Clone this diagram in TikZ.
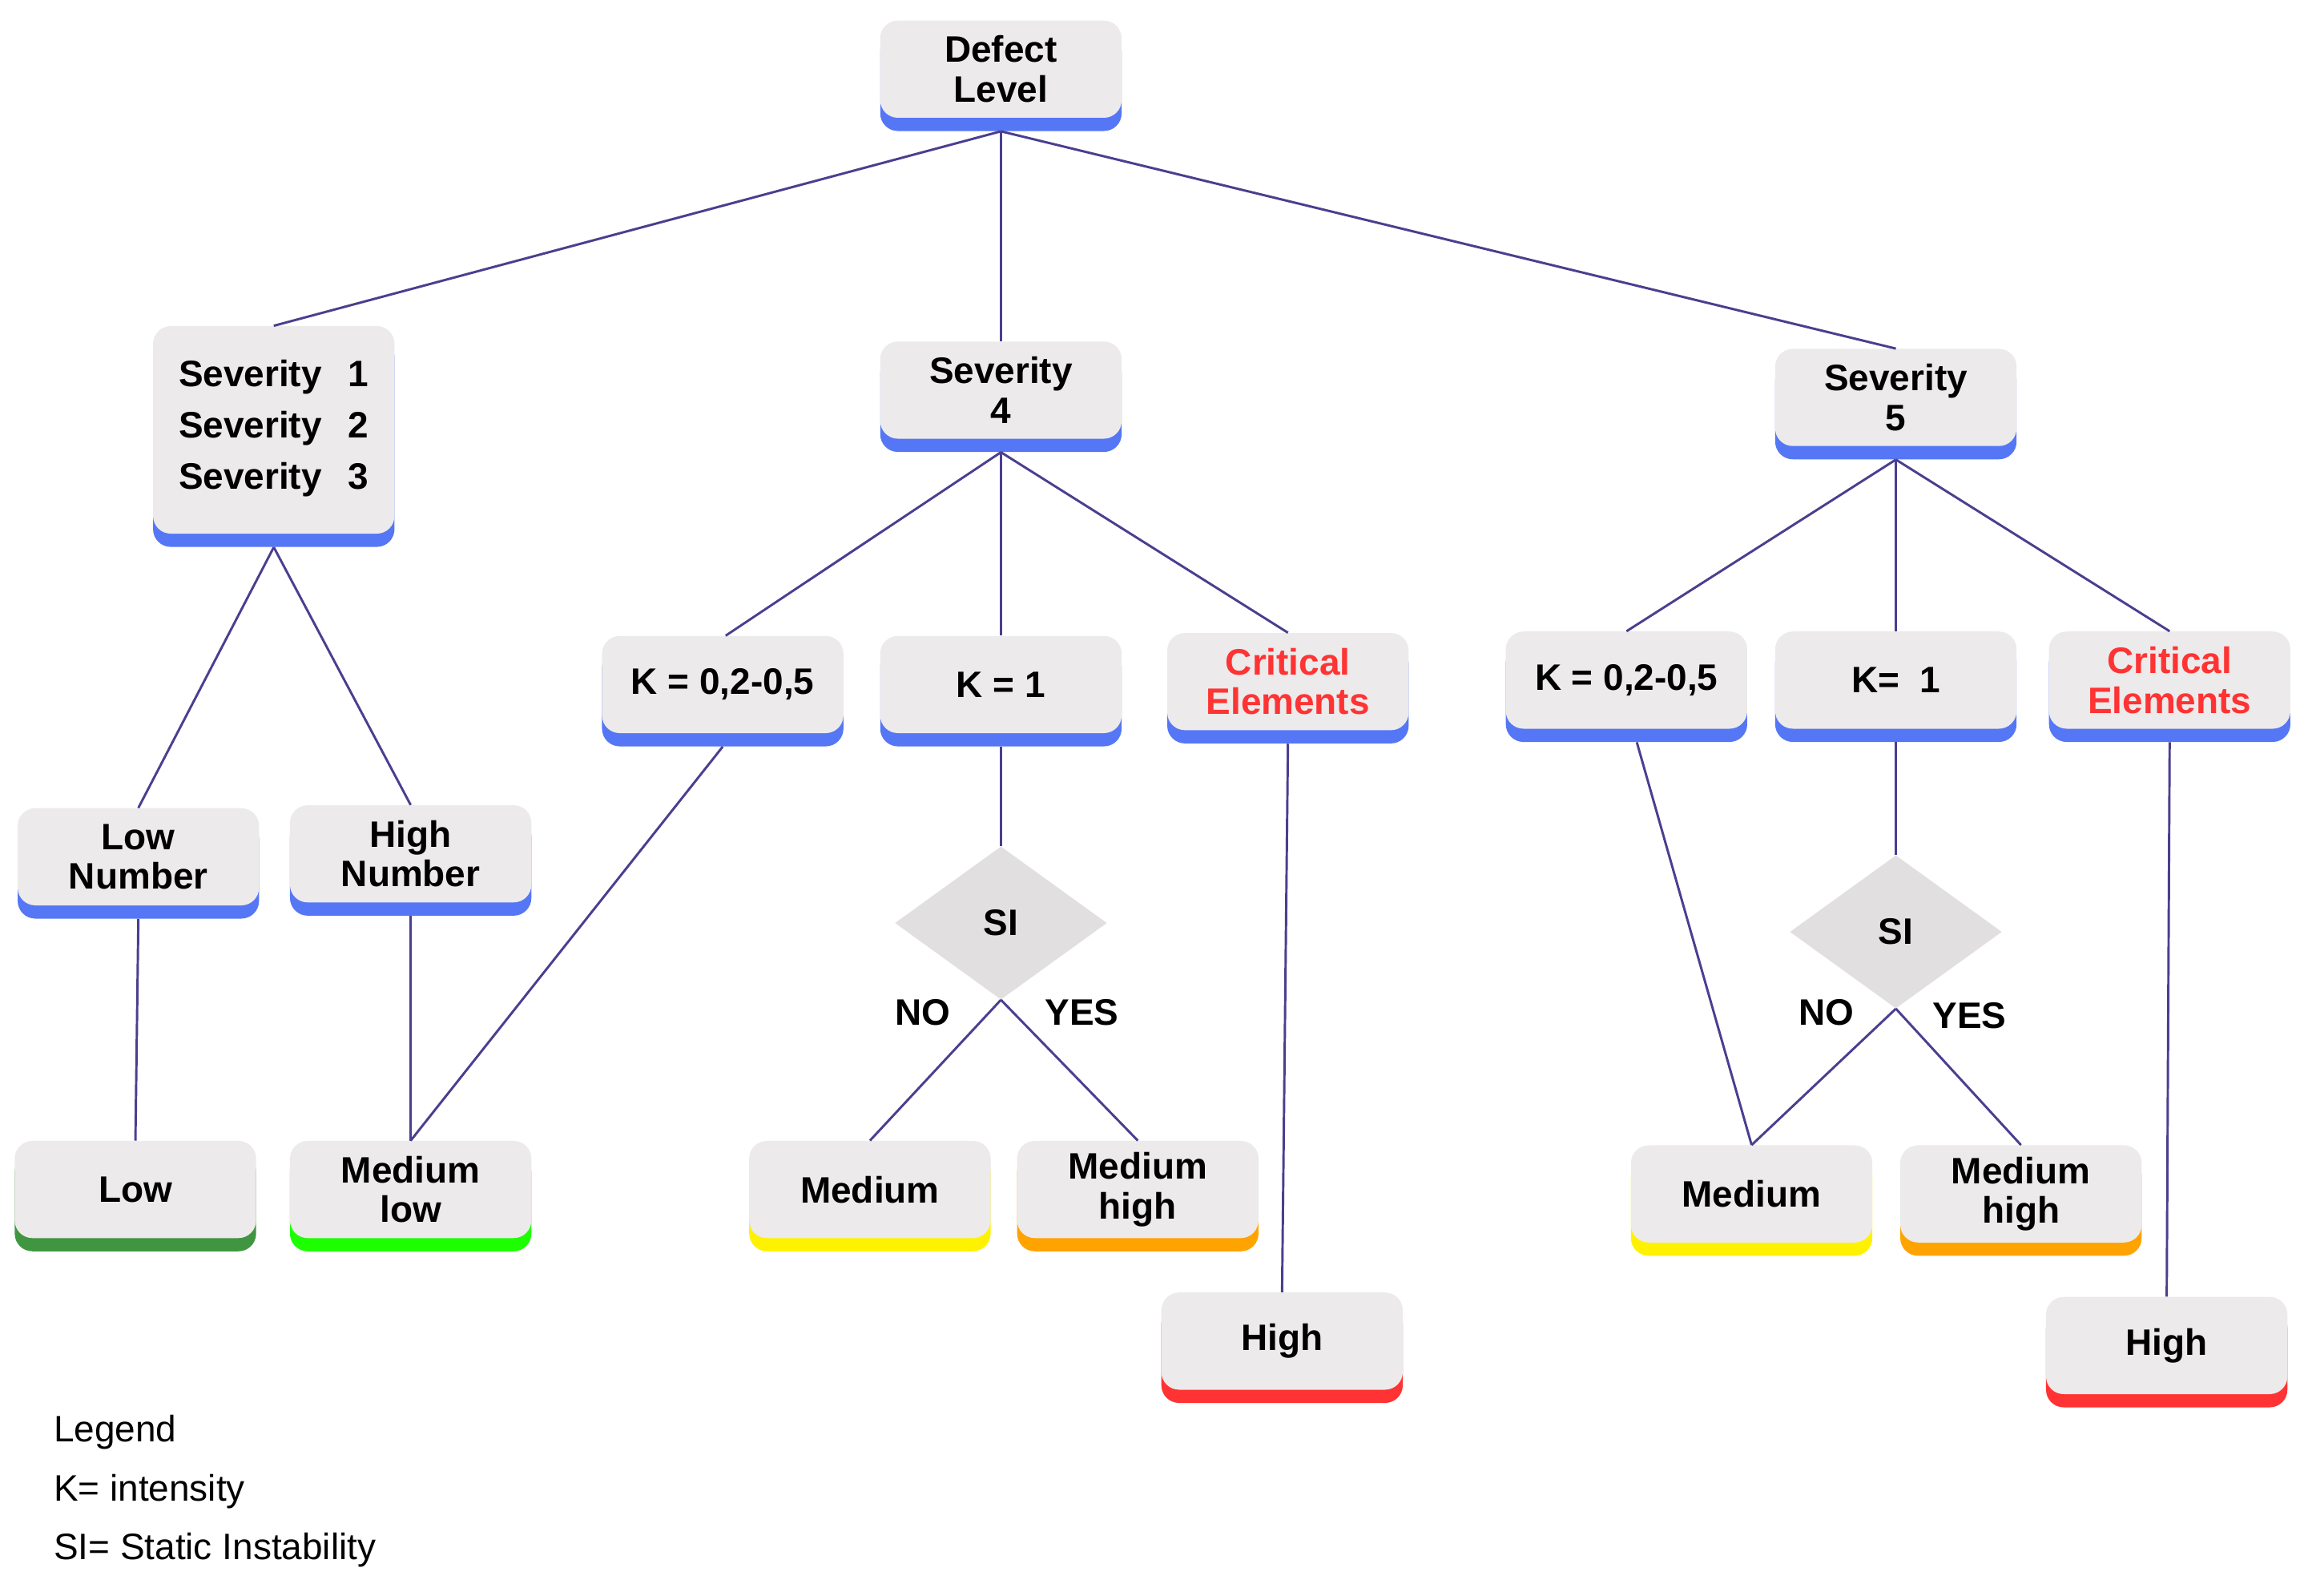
\documentclass[tikz,border=0pt]{standalone}
\usepackage{fontspec}
\setmainfont{Liberation Sans}
\usetikzlibrary{shadows,shapes.geometric}
\definecolor{bx}{HTML}{ECEAEA}
\definecolor{ln}{HTML}{4A3F8F}
\definecolor{sb}{HTML}{5577F5}
\definecolor{crit}{HTML}{FF3333}
\begin{document}
\begin{tikzpicture}[x=1pt,y=-1pt,
 box/.style={rectangle,rounded corners=12pt,fill=bx,minimum width=164pt,minimum height=66pt,
   align=center,font=\fontsize{25}{27}\selectfont\bfseries,inner sep=2pt,
   general shadow={fill=#1,shadow yshift=-9pt}},
 box/.default=sb,
 si/.style={diamond,fill=bx!90!gray,minimum width=144pt,minimum height=104pt,inner sep=0pt,font=\fontsize{25}{27}\selectfont\bfseries},
 lab/.style={font=\fontsize{25}{27}\selectfont\bfseries},
 leg/.style={font=\fontsize{25}{27}\selectfont,anchor=west},
 e/.style={draw=ln,line width=1.6pt}]
\useasboundingbox (0,0) rectangle (1568,1084);
\node[box] (dl) at (680,47) {Defect\\Level};
\node[box,minimum height=141pt] (s13) at (186,292) {\begin{tabular}{@{}l@{\hspace{18pt}}r@{}}Severity&1\\[8pt]Severity&2\\[8pt]Severity&3\end{tabular}};
\node[box] (s4) at (680,265) {Severity\\4};
\node[box] (s5) at (1288,270) {Severity\\5};
\node[box] (k1) at (491,465) {K = 0,2-0,5};
\node[box] (k2) at (680,465) {K = 1};
\node[box,text=crit] (c1) at (875,463) {Critical\\Elements};
\node[box] (k3) at (1105,462) {K = 0,2-0,5};
\node[box] (k4) at (1288,462) {K=\ \ 1};
\node[box,text=crit] (c2) at (1474,462) {Critical\\Elements};
\node[box] (ln) at (94,582) {Low\\Number};
\node[box] (hn) at (279,580) {High\\Number};
\node[box=green!45!black!75] (lo) at (92,808) {Low};
\node[box=green!85!lime] (ml) at (279,808) {Medium\\low};
\node[box=yellow] (m1) at (591,808) {Medium};
\node[box=orange!80!red!60!yellow] (mh1) at (773,808) {Medium\\high};
\node[box=crit] (h1) at (871,911) {High};
\node[box=yellow] (m2) at (1190,811) {Medium};
\node[box=orange!80!red!60!yellow] (mh2) at (1373,811) {Medium\\high};
\node[box=crit] (h2) at (1472,914) {High};
\node[si] (d1) at (680,627) {SI};
\node[si] (d2) at (1288,633) {SI};
\node[lab] at (627,688) {NO};
\node[lab] at (735,688) {YES};
\node[lab] at (1241,688) {NO};
\node[lab] at (1338,690) {YES};
\node[leg] (l1) at (33,973) {Legend};
\node[leg] (l2) at (33,1013) {K= intensity};
\node[leg] (l3) at (33,1053) {SI= Static Instability};
\begin{scope}[e]
\draw ([yshift=-9pt]dl.south) -- (s13.north);
\draw ([yshift=-9pt]dl.south) -- (s4.north);
\draw ([yshift=-9pt]dl.south) -- (s5.north);
\draw ([yshift=-9pt]s13.south) -- (ln.north);
\draw ([yshift=-9pt]s13.south) -- (hn.north);
\draw ([yshift=-9pt]ln.south) -- (lo.north);
\draw ([yshift=-9pt]hn.south) -- (ml.north);
\draw ([yshift=-9pt]s4.south) -- ([xshift=2pt]k1.north);
\draw ([yshift=-9pt]s4.south) -- (k2.north);
\draw ([yshift=-9pt]s4.south) -- (c1.north);
\draw ([yshift=-9pt]k1.south) -- (ml.north);
\draw ([yshift=-9pt]k2.south) -- (d1.north);
\draw (d1.south) -- (m1.north);
\draw (d1.south) -- (mh1.north);
\draw ([yshift=-9pt]c1.south) -- (h1.north);
\draw ([yshift=-9pt]s5.south) -- (k3.north);
\draw ([yshift=-9pt]s5.south) -- (k4.north);
\draw ([yshift=-9pt]s5.south) -- (c2.north);
\draw ([xshift=7pt,yshift=-9pt]k3.south) -- (m2.north);
\draw ([yshift=-9pt]k4.south) -- (d2.north);
\draw (d2.south) -- (m2.north);
\draw (d2.south) -- (mh2.north);
\draw ([yshift=-9pt]c2.south) -- (h2.north);
\end{scope}
\end{tikzpicture}
\end{document}
